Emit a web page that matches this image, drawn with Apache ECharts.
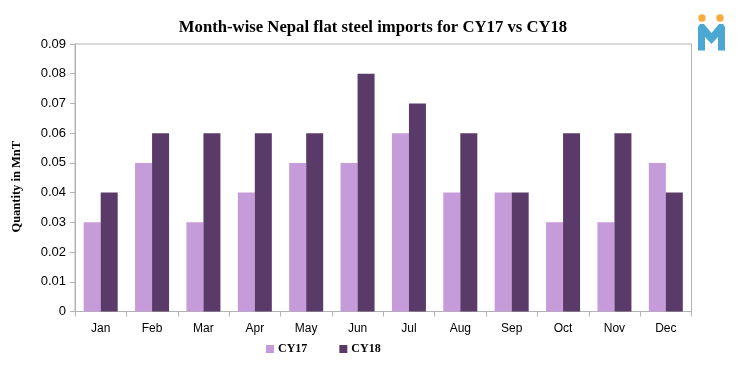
<!DOCTYPE html>
<html>
<head>
<meta charset="utf-8">
<style>html,body{margin:0;padding:0;background:#fff}#chart{width:747px;height:370px}</style>
<script src="https://cdn.jsdelivr.net/npm/echarts@6/dist/echarts.min.js"></script>
</head>
<body>
<div id="chart"></div>
<script>
const months = ['Jan', 'Feb', 'Mar', 'Apr', 'May', 'Jun', 'Jul', 'Aug', 'Sep', 'Oct', 'Nov', 'Dec']
const cy17 = [0.03, 0.05, 0.03, 0.04, 0.05, 0.05, 0.06, 0.04, 0.04, 0.03, 0.03, 0.05]
const cy18 = [0.04, 0.06, 0.06, 0.06, 0.06, 0.08, 0.07, 0.06, 0.04, 0.06, 0.06, 0.04]

const SERIF = '"Liberation Serif", serif'
const SANS = '"Liberation Sans", sans-serif'
const AXIS_COLOR = '#b3b3b3'

const chart = echarts.init(document.getElementById('chart'), undefined, { renderer: 'canvas' })
chart.setOption({
  animation: false,
  backgroundColor: '#fff',
  title: {
    text: 'Month-wise Nepal flat steel imports for CY17 vs CY18',
    left: 368, top: 14, textAlign: 'center',
    textStyle: { fontFamily: SERIF, fontSize: 16.7, fontWeight: 'bold', color: '#000' },
  },
  legend: {
    data: ['CY17', 'CY18'],
    left: 261, top: 338,
    icon: 'rect',
    itemWidth: 8, itemHeight: 8, itemGap: 32,
    textStyle: { fontFamily: SERIF, fontSize: 12, fontWeight: 'bold', color: '#000', padding: [0, 0, 0, -1] },
  },
  grid: { left: 75, right: 55.5, top: 44, bottom: 58.5, show: true, borderColor: AXIS_COLOR, borderWidth: 1 },
  xAxis: {
    type: 'category',
    data: months,
    axisLine: { lineStyle: { color: AXIS_COLOR } },
    axisTick: { show: true, length: 5, alignWithLabel: false, lineStyle: { color: AXIS_COLOR } },
    axisLabel: { fontFamily: SANS, fontSize: 12, color: '#000', margin: 11 },
  },
  yAxis: {
    type: 'value',
    min: 0, max: 0.09, interval: 0.01,
    name: 'Quantity in MnT',
    nameLocation: 'middle', nameGap: 52, nameRotate: 90,
    nameTextStyle: { fontFamily: SERIF, fontSize: 12.5, fontWeight: 'bold', color: '#000', padding: [0, 18, 0, 0] },
    axisLine: { show: true, lineStyle: { color: AXIS_COLOR } },
    axisTick: { show: true, length: 5, lineStyle: { color: AXIS_COLOR } },
    axisLabel: { fontFamily: SANS, fontSize: 13, color: '#000', margin: 9, formatter: (v) => (v === 0 ? '0' : v.toFixed(2)) },
    splitLine: { show: false },
  },
  series: [
    { name: 'CY17', type: 'bar', data: cy17, barWidth: 17, barGap: 0, itemStyle: { color: '#c59bd9' } },
    { name: 'CY18', type: 'bar', data: cy18, barWidth: 17, barGap: 0, itemStyle: { color: '#5a3a69' } },
  ],
  // logo, top right
  graphic: [
    { type: 'circle', shape: { cx: 702, cy: 18, r: 3.7 }, style: { fill: '#f7ab3c' } },
    { type: 'circle', shape: { cx: 720, cy: 18, r: 3.7 }, style: { fill: '#f7ab3c' } },
    {
      type: 'polygon',
      shape: { points: [[698, 50.5], [698, 27], [700, 24], [704, 24], [711.5, 33], [719, 24], [723, 24], [725, 27], [725, 50.5], [718, 50.5], [718, 37], [711.5, 44], [705, 37], [705, 50.5]] },
      style: { fill: '#4aa8d2' },
    },
  ],
})
</script>
</body>
</html>
